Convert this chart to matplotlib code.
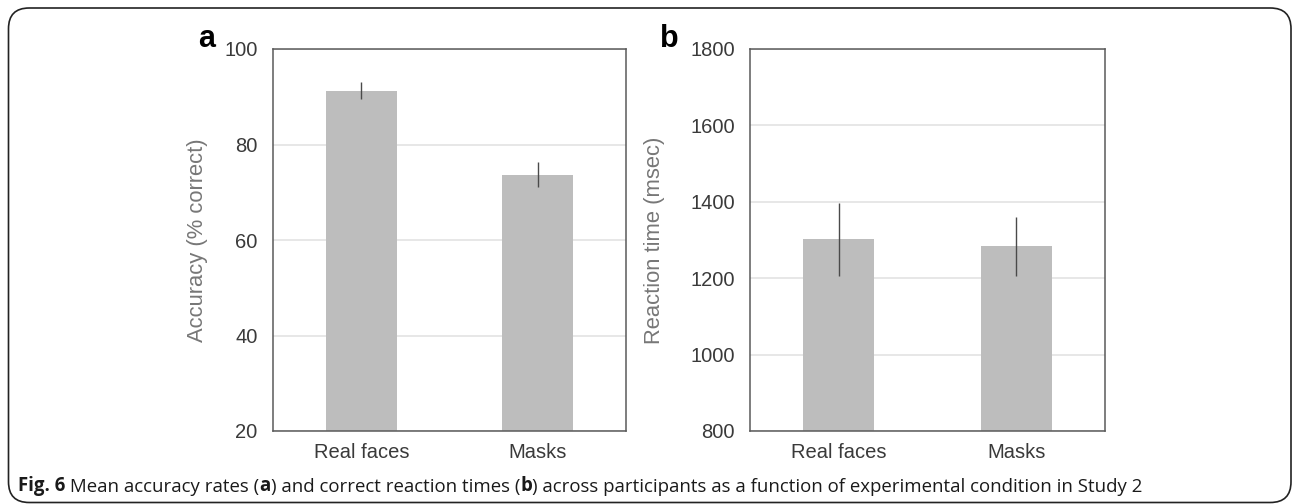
import numpy as np
import matplotlib
matplotlib.use('Agg')
import matplotlib.pyplot as plt
from matplotlib.patches import FancyBboxPatch

# Data
conditions = ['Real faces', 'Masks']
acc_mean   = [91.3, 73.7]
acc_err    = [1.7, 2.6]
rt_mean    = [1302, 1283]
rt_err     = [95, 76]

acc_ticks = [20, 40, 60, 80, 100]
rt_ticks  = [800, 1000, 1200, 1400, 1600, 1800]

W, H = 1292, 504
plt.rcParams['font.family'] = ['Liberation Sans', 'DejaVu Sans']

fig = plt.figure(figsize=(W / 100, H / 100), dpi=100)

BAR_C   = '#bdbdbd'
SPINE_C = '#5a5a5a'
GRID_C  = '#e3e3e3'
TICK_C  = '#3a3a3a'
LABEL_C = '#777777'


def px_axes(x0, x1, y0, y1):
    # pixel box (top-left origin) -> figure fraction
    return fig.add_axes([x0 / W, 1 - y1 / H, (x1 - x0) / W, (y1 - y0) / H])


def draw_panel(ax, means, errs, ticks, ylabel, letter, label_x, letter_x):
    x = np.arange(len(conditions))
    ax.set_axisbelow(True)
    ax.bar(x, means, width=0.4, color=BAR_C, zorder=2)
    ax.errorbar(x, means, yerr=errs, fmt='none', ecolor='#4a4a4a',
                elinewidth=1.0, capsize=0, zorder=3)
    ax.set_xlim(-0.5, 1.5)
    ax.set_ylim(ticks[0], ticks[-1])
    ax.set_yticks(ticks)
    ax.set_xticks(x)
    ax.set_xticklabels(conditions)
    ax.yaxis.grid(True, color=GRID_C, linewidth=1.2)
    ax.tick_params(axis='both', length=0, labelsize=14.5, colors=TICK_C)
    ax.tick_params(axis='y', pad=11)
    ax.tick_params(axis='x', pad=9)
    for s in ax.spines.values():
        s.set_color(SPINE_C)
        s.set_linewidth(1.1)
    ax.set_ylabel(ylabel, fontsize=15.8, color=LABEL_C)
    ax.yaxis.set_label_coords(label_x, 0.5)
    fig.text(letter_x / W, 1 - 47 / H, letter, fontsize=22, fontweight='bold',
             color='black', ha='left', va='baseline')


ax_a = px_axes(273, 626, 49, 431)
draw_panel(ax_a, acc_mean, acc_err, acc_ticks, 'Accuracy (% correct)', 'a',
           -0.184, 198)

ax_b = px_axes(750, 1105, 49, 431)
draw_panel(ax_b, rt_mean, rt_err, rt_ticks, 'Reaction time (msec)', 'b',
           -0.239, 660)

# Rounded frame around the figure
frame = FancyBboxPatch((8.5 / W, 1.5 / H), (1291 - 8.5) / W, (496 - 1.5) / H,
                       boxstyle='round,pad=0,rounding_size=0.016',
                       transform=fig.transFigure, fill=False,
                       edgecolor='#222222', linewidth=1.2,
                       mutation_aspect=W / H)
fig.add_artist(frame)

# Caption: bold and normal pieces chained one after another
pieces = [
    ('Fig. 6', 'bold'),
    (' Mean accuracy rates (', 'normal'),
    ('a', 'bold'),
    (') and correct reaction times (', 'normal'),
    ('b', 'bold'),
    (') across participants as a function of experimental condition in Study 2', 'normal'),
]
cap_font = ['Open Sans', 'DejaVu Sans']
CAP_SIZE = 13.4
anchor = fig.text(18 / W, 1 - 496 / H, pieces[0][0], fontsize=CAP_SIZE,
                  fontweight='bold', family=cap_font, color='#1a1a1a',
                  ha='left', va='bottom')
for txt, wt in pieces[1:]:
    anchor = ax_a.annotate(txt, xy=(1, 0), xycoords=anchor, xytext=(0, 0),
                           textcoords='offset points', fontsize=CAP_SIZE,
                           fontweight=wt, family=cap_font, color='#1a1a1a',
                           ha='left', va='bottom', annotation_clip=False)

fig.savefig('out.png', dpi=100)
